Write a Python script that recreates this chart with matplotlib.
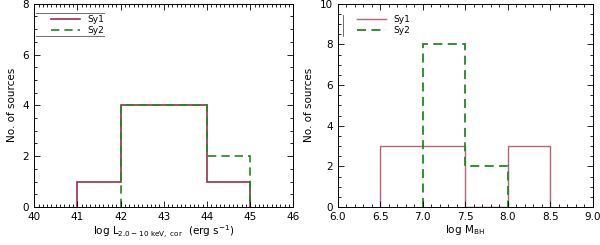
import matplotlib
matplotlib.use("Agg")
import matplotlib.pyplot as plt
from matplotlib.ticker import MultipleLocator

# left panel: hard X-ray luminosity
lum_edges_sy1 = [41, 42, 43, 44, 45]
lum_counts_sy1 = [1, 4, 4, 1]
lum_edges_sy2 = [42, 43, 44, 45]
lum_counts_sy2 = [4, 4, 2]

# right panel: black hole mass
mbh_edges_sy1 = [6.5, 7.0, 7.5, 8.0, 8.5]
mbh_counts_sy1 = [3, 3, 0, 3]
mbh_edges_sy2 = [7.0, 7.5, 8.0]
mbh_counts_sy2 = [8, 2]

plt.rcParams['font.family'] = 'DejaVu Sans'
plt.rcParams['font.size'] = 7.5

fig = plt.figure(figsize=(6.0, 2.45), dpi=100)
ax1 = fig.add_axes([0.057, 0.155, 0.432, 0.83])
ax2 = fig.add_axes([0.563, 0.155, 0.425, 0.83])


def style(ax, xmaj, xmin, ymaj, ymin):
    ax.xaxis.set_major_locator(MultipleLocator(xmaj))
    ax.xaxis.set_minor_locator(MultipleLocator(xmin))
    ax.yaxis.set_major_locator(MultipleLocator(ymaj))
    ax.yaxis.set_minor_locator(MultipleLocator(ymin))
    ax.tick_params(which='both', direction='in', top=True, right=True, width=0.6)
    ax.tick_params(which='major', length=4, labelsize=7.5)
    ax.tick_params(which='minor', length=2)
    for s in ax.spines.values():
        s.set_linewidth(0.7)


ax1.stairs(lum_counts_sy1, lum_edges_sy1, baseline=0, color='#9c2e4a', lw=1.2, label='Sy1')
ax1.stairs(lum_counts_sy2, lum_edges_sy2, baseline=0, color='#1f8a1f', lw=1.2,
           ls=(0, (5, 3)), label='Sy2')
ax1.set_xlim(40, 46)
ax1.set_ylim(0, 8)
style(ax1, 1, 0.1, 2, 0.5)
ax1.set_xlabel(r'log L$_{\rm 2.0-10\ keV,\ cor}$  (erg s$^{-1}$)', labelpad=1)
ax1.set_ylabel('No. of sources', labelpad=4)
ax1.legend(loc='upper left', frameon=False, fontsize=6.5, handlelength=3.2,
           borderaxespad=0.9, labelspacing=0.15, bbox_to_anchor=(0.02, 1.0))
# IDL-style legend box edges (top and bottom only)
for yy in (0.955, 0.84):
    ax1.plot([0.008, 0.27], [yy, yy], transform=ax1.transAxes, color='#555555', lw=0.6)

ax2.stairs(mbh_counts_sy1, mbh_edges_sy1, baseline=0, color='#b86474', lw=1.0, label='Sy1')
ax2.stairs(mbh_counts_sy2, mbh_edges_sy2, baseline=0, color='#1f8a1f', lw=1.3,
           ls=(0, (5, 3)), label='Sy2')
ax2.set_xlim(6.0, 9.0)
ax2.set_ylim(0, 10)
ax2.set_xticks([6.0, 6.5, 7.0, 7.5, 8.0, 8.5, 9.0])
ax2.set_xticklabels(['6.0', '6.5', '7.0', '7.5', '8.0', '8.5', '9.0'])
style(ax2, 0.5, 0.1, 2, 0.5)
ax2.set_xlabel(r'log M$_{\rm BH}$', labelpad=1)
ax2.set_ylabel('No. of sources', labelpad=4)
ax2.legend(loc='upper left', frameon=False, fontsize=6.5, handlelength=3.2,
           borderaxespad=0.9, labelspacing=0.15, bbox_to_anchor=(0.03, 1.0))
# IDL-style legend box edge (left only)
ax2.plot([0.02, 0.02], [0.945, 0.84], transform=ax2.transAxes, color='#555555', lw=0.6)

fig.savefig('out.png', dpi=100)
